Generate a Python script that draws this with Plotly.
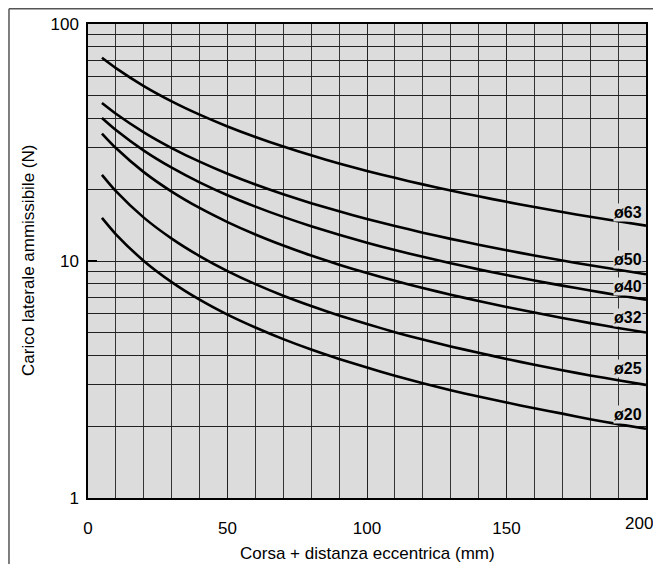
import math
import plotly.graph_objects as go

# Stroke (+ eccentric distance), mm
x_mm = [5, 10, 20, 30, 40, 50, 60, 70, 80, 90, 100, 110, 120, 130, 140, 150, 160, 170, 180, 190, 200]

# Allowable lateral load (N) per bore size
load_d63 = [72.0, 65.14, 54.72, 47.17, 41.45, 36.97, 33.37, 30.40, 27.92, 25.81, 24.0, 22.43, 21.05, 19.83, 18.74, 17.77, 16.89, 16.09, 15.37, 14.71, 14.10]
load_d50 = [46.40, 41.81, 34.91, 29.97, 26.25, 23.35, 21.03, 19.13, 17.54, 16.20, 15.05, 14.05, 13.17, 12.40, 11.72, 11.10, 10.55, 10.05, 9.59, 9.18, 8.79]
load_d40 = [40.10, 35.67, 29.22, 24.75, 21.46, 18.94, 16.96, 15.35, 14.02, 12.90, 11.94, 11.12, 10.41, 9.78, 9.22, 8.72, 8.27, 7.87, 7.51, 7.17, 6.87]
load_d32 = [34.50, 29.96, 23.72, 19.63, 16.74, 14.60, 12.94, 11.62, 10.54, 9.65, 8.89, 8.25, 7.69, 7.21, 6.78, 6.40, 6.06, 5.75, 5.47, 5.22, 4.99]
load_d25 = [23.10, 19.71, 15.24, 12.43, 10.49, 9.07, 7.99, 7.14, 6.46, 5.89, 5.42, 5.01, 4.66, 4.36, 4.10, 3.86, 3.65, 3.46, 3.29, 3.14, 3.00]
load_d20 = [15.20, 12.96, 10.01, 8.15, 6.87, 5.94, 5.24, 4.68, 4.23, 3.86, 3.55, 3.28, 3.05, 2.85, 2.68, 2.53, 2.39, 2.27, 2.15, 2.05, 1.96]

series_names = ["ø63", "ø50", "ø40", "ø32", "ø25", "ø20"]
series_values = [load_d63, load_d50, load_d40, load_d32, load_d25, load_d20]
label_y = [16.0, 10.1, 7.8, 5.75, 3.52, 2.25]

x_ticks = [0, 50, 100, 150, 200]
x_ticktext = ["0", "50", "100", "150", ""]
y_ticks = [1, 10, 100]
y_minor = [2, 3, 4, 5, 6, 7, 8, 9, 20, 30, 40, 50, 60, 70, 80, 90]

x_title = "Corsa + distanza eccentrica (mm)"
y_title = "Carico laterale ammissibile (N)"

FONT = "Liberation Sans, Arial, sans-serif"

fig = go.Figure()
for name, vals in zip(series_names, series_values):
    fig.add_trace(go.Scatter(
        x=x_mm, y=vals, mode="lines", name=name,
        line=dict(color="black", width=2.6, shape="spline", smoothing=0.6),
        hoverinfo="x+y+name", showlegend=False,
    ))

for name, ly in zip(series_names, label_y):
    fig.add_annotation(
        x=199, y=math.log10(ly), xref="x", yref="y",
        text="<b>" + name + "</b>", showarrow=False,
        xanchor="right", yanchor="middle",
        font=dict(family=FONT, size=16, color="black"),
        bgcolor="#dcdcdc", borderpad=0,
    )

# last x tick label, pulled inside the figure edge
fig.add_annotation(
    x=x_ticks[-1], y=0, xref="x", yref="paper",
    text=str(x_ticks[-1]), showarrow=False,
    xanchor="center", yanchor="top", xshift=-7, yshift=-14,
    font=dict(family=FONT, size=17, color="black"),
)

# axis titles
fig.add_annotation(
    x=0.5, y=-0.118, xref="paper", yref="paper", text=x_title, showarrow=False,
    xanchor="center", yanchor="middle", font=dict(family=FONT, size=17, color="black"),
)
fig.add_annotation(
    x=-0.1075, y=0.5, xref="paper", yref="paper", text=y_title, showarrow=False,
    textangle=-90, xanchor="center", yanchor="middle",
    font=dict(family=FONT, size=17, color="black"),
)

# outer frame of the figure (left and top edges visible)
fig.add_shape(type="line", xref="paper", yref="paper",
              x0=-0.1416, y0=-0.3, x1=-0.1416, y1=1.032,
              line=dict(color="#555555", width=1.5), layer="below")
fig.add_shape(type="line", xref="paper", yref="paper",
              x0=-0.1416, y0=1.032, x1=1.2, y1=1.032,
              line=dict(color="#555555", width=1.5), layer="below")

fig.update_layout(
    width=645, height=556,
    margin=dict(l=80, r=7, t=16, b=66),
    paper_bgcolor="white",
    plot_bgcolor="#dcdcdc",
    font=dict(family=FONT, size=17, color="black"),
    xaxis=dict(
        range=[0, 200], tickvals=x_ticks, ticktext=x_ticktext,
        showgrid=True, gridcolor="#222222", gridwidth=1,
        minor=dict(dtick=10, showgrid=True, gridcolor="#333333", gridwidth=1, ticks=""),
        showline=True, linecolor="black", linewidth=1.5, mirror=True,
        ticks="", ticklabelstandoff=14, automargin=False,
        zeroline=False,
        tickfont=dict(size=17),
    ),
    yaxis=dict(
        type="log", range=[0, 2], tickvals=y_ticks, ticktext=["1", "10", "100"],
        showgrid=True, gridcolor="#222222", gridwidth=1,
        minor=dict(tickvals=y_minor, showgrid=True, gridcolor="#222222", gridwidth=1, ticks=""),
        showline=True, linecolor="black", linewidth=1.5, mirror=True,
        ticks="inside", ticklen=9, tickwidth=2, tickcolor="black",
        ticklabelstandoff=4, automargin=False,
        zeroline=False,
        tickfont=dict(size=17),
    ),
)

fig.write_html("out.html")
